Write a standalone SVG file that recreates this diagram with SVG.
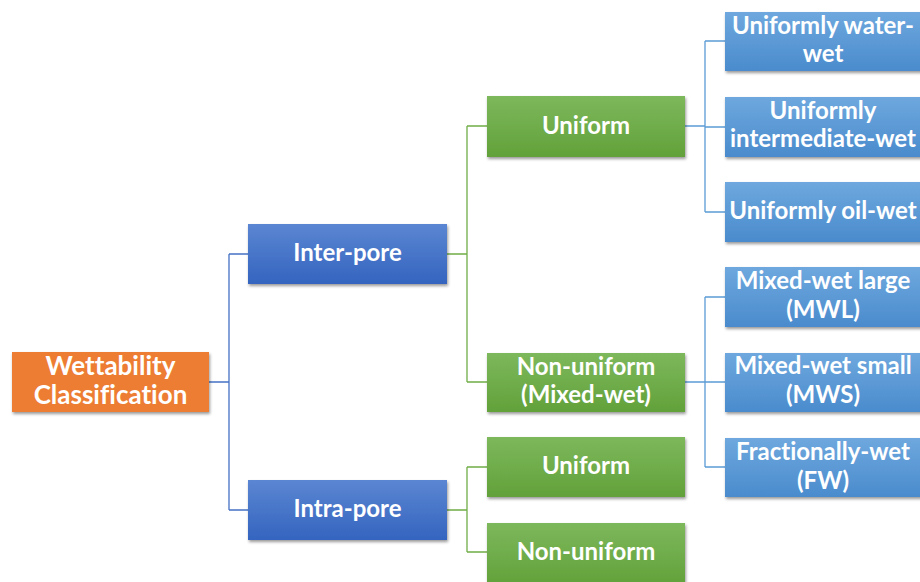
<svg xmlns="http://www.w3.org/2000/svg" width="920" height="582" viewBox="0 0 920 582">
<defs>
<linearGradient id="gBlue" x1="0" y1="0" x2="0" y2="1"><stop offset="0" stop-color="#5b86d2"/><stop offset="1" stop-color="#3464bf"/></linearGradient>
<linearGradient id="gGreen" x1="0" y1="0" x2="0" y2="1"><stop offset="0" stop-color="#7db85c"/><stop offset="1" stop-color="#62a13a"/></linearGradient>
<linearGradient id="gLight" x1="0" y1="0" x2="0" y2="1"><stop offset="0" stop-color="#6ea8de"/><stop offset="1" stop-color="#4a8bcd"/></linearGradient>
<filter id="sh" x="-10%" y="-20%" width="120%" height="150%"><feDropShadow dx="1" dy="2" stdDeviation="1.5" flood-color="#000" flood-opacity="0.4"/></filter>
</defs>
<style>
.t{font-family:Lato,"Open Sans",sans-serif;font-weight:bold;font-size:24px;fill:#fff;text-anchor:middle;font-variant-ligatures:none}
.r{font-size:26px}
.b{filter:url(#sh)}
.c{fill:none;stroke-width:1.3}
</style>
<rect width="920" height="582" fill="#fff"/>
<g id="connectors">
<path class="c" stroke="#4472c4" d="M209 382H229M229 254V510M229 254H248M229 510H248"/>
<path class="c" stroke="#70ad47" d="M447 254H467M467 126V382M467 126H487M467 382H487"/>
<path class="c" stroke="#70ad47" d="M447 510H467M467 467V552M467 467H487M467 552H487"/>
<path class="c" stroke="#5b9bd5" d="M685 126H705M705 41V212M705 41H725M705 127H725M705 212H725"/>
<path class="c" stroke="#5b9bd5" d="M685 382H705M705 297V467M705 297H725M705 382H725M705 467H725"/>
</g>
<g id="root"><rect class="b" x="12" y="352" width="197" height="60" fill="#ed7d31"/><text class="t r" x="110.5" y="375">Wettability</text><text class="t r" x="110.5" y="404">Classification</text></g>
<g id="inter"><rect class="b" x="248" y="224" width="199" height="60" fill="url(#gBlue)"/><text class="t" x="347.5" y="261">Inter-pore</text></g>
<g id="intra"><rect class="b" x="248" y="480" width="199" height="60" fill="url(#gBlue)"/><text class="t" x="347.5" y="517">Intra-pore</text></g>
<g id="uniform1"><rect class="b" x="487" y="96" width="198" height="61" fill="url(#gGreen)"/><text class="t" x="586" y="134">Uniform</text></g>
<g id="nonuniform1"><rect class="b" x="487" y="353" width="198" height="59" fill="url(#gGreen)"/><text class="t" x="586" y="375">Non-uniform</text><text class="t" x="586" y="403">(Mixed-wet)</text></g>
<g id="uniform2"><rect class="b" x="487" y="437" width="198" height="60" fill="url(#gGreen)"/><text class="t" x="586" y="474">Uniform</text></g>
<g id="nonuniform2"><rect class="b" x="487" y="523" width="198" height="62" fill="url(#gGreen)"/><text class="t" x="586" y="560">Non-uniform</text></g>
<g id="uww"><rect class="b" x="725" y="12" width="200" height="59" fill="url(#gLight)"/><text class="t" x="823" y="34">Uniformly water-</text><text class="t" x="823" y="62">wet</text></g>
<g id="uiw"><rect class="b" x="725" y="97" width="200" height="60" fill="url(#gLight)"/><text class="t" x="823" y="119">Uniformly</text><text class="t" x="823" y="147">intermediate-wet</text></g>
<g id="uow"><rect class="b" x="725" y="182" width="200" height="60" fill="url(#gLight)"/><text class="t" x="823" y="219">Uniformly oil-wet</text></g>
<g id="mwl"><rect class="b" x="725" y="267" width="200" height="60" fill="url(#gLight)"/><text class="t" x="823" y="289">Mixed-wet large</text><text class="t" x="823" y="318">(MWL)</text></g>
<g id="mws"><rect class="b" x="725" y="353" width="200" height="59" fill="url(#gLight)"/><text class="t" x="823" y="374">Mixed-wet small</text><text class="t" x="823" y="403">(MWS)</text></g>
<g id="fw"><rect class="b" x="725" y="438" width="200" height="59" fill="url(#gLight)"/><text class="t" x="823" y="460">Fractionally-wet</text><text class="t" x="823" y="489">(FW)</text></g>
</svg>
